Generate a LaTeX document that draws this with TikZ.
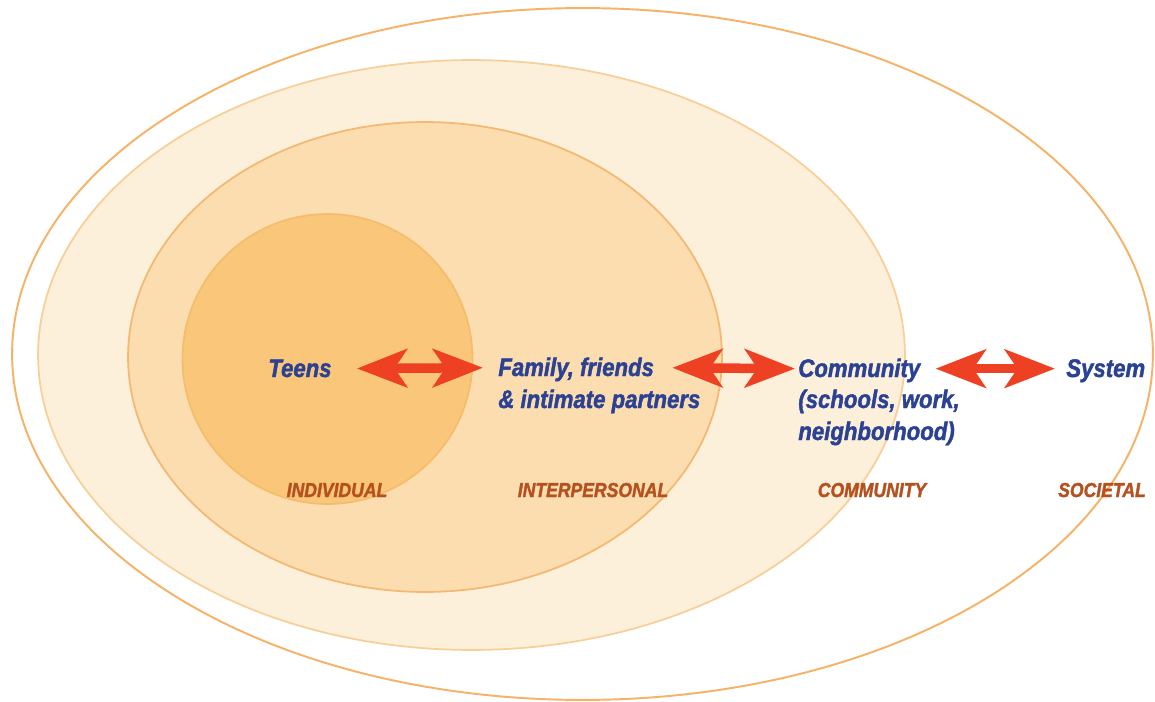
\documentclass[tikz,border=0pt]{standalone}
\usepackage{fontspec}
\setmainfont[FakeStretch=0.87, BoldItalicFeatures={FakeBold=1.6}]{Liberation Sans}
\usepackage{xcolor}
\usepackage{tikz}
\usetikzlibrary{arrows.meta}
\definecolor{ringline}{HTML}{F6B266}
\definecolor{ringtwo}{HTML}{FDF0DB}
\definecolor{ringtwoline}{HTML}{F8CF98}
\definecolor{ringthree}{HTML}{FCDDAF}
\definecolor{ringthreeline}{HTML}{F4B872}
\definecolor{core}{HTML}{FAC77A}
\definecolor{coreline}{HTML}{F6BC6E}
\definecolor{textblue}{HTML}{2A4194}
\definecolor{levelbrown}{HTML}{B5501F}
\definecolor{arrowred}{HTML}{EE4123}
\tikzstyle{who} = [inner sep=0pt, anchor=base west, text=textblue, font=\fontsize{14.5}{18}\selectfont\bfseries\itshape, text height=10.5pt, text depth=1pt]
\tikzstyle{level} = [inner sep=0pt, anchor=base, text=levelbrown, font=\fontsize{11.5}{14}\selectfont\bfseries\itshape]
\tikzstyle{twoway} = [draw=arrowred, line width=0.19cm, {Stealth[length=1cm,width=0.76cm,inset=0.25cm]}-{Stealth[length=1cm,width=0.76cm,inset=0.25cm]}]
\begin{document}
\begin{tikzpicture}[x=0.02cm,y=-0.02cm]
	\useasboundingbox (0,0) rectangle (1155,702);
	% anelli
	\draw[ringline, line width=1.1pt, fill=white] (582.5,354) ellipse [x radius=11.41cm, y radius=6.92cm];
	\draw[ringtwoline, line width=1pt, fill=ringtwo] (471.5,355) ellipse [x radius=8.67cm, y radius=5.9cm];
	\draw[ringthreeline, line width=1pt, fill=ringthree] (425,357) ellipse [x radius=5.94cm, y radius=4.7cm];
	\draw[coreline, line width=1pt, fill=core] (327.5,359) circle [radius=2.9cm];
	% testi
	\node[who] (teens) at (268,377) {Teens};
	\node[who] (famA) at (498,376) {Family, friends};
	\node[who] (famB) at (498,408) {\& intimate partners};
	\node[who] (commA) at (798,377) {Community};
	\node[who] (commB) at (798,408) {(schools, work,};
	\node[who] (commC) at (798,440) {neighborhood)};
	\node[who] (system) at (1066,377) {System};
	\node[level] (individual) at (337,497) {INDIVIDUAL};
	\node[level] (interpersonal) at (593,497) {INTERPERSONAL};
	\node[level] (community) at (872,497) {COMMUNITY};
	\node[level] (societal) at (1102,497) {SOCIETAL};
	% frecce
	\draw[twoway, shorten <=0.5cm, shorten >=0.3cm] (teens.east) -- (famA.west);
	\draw[twoway, shorten <=0.36cm, shorten >=0.06cm] (famA.east) -- (commA.west);
	\draw[twoway, shorten <=0.3cm, shorten >=0.22cm] (commA.east) -- (system.west);
\end{tikzpicture}
\end{document}
